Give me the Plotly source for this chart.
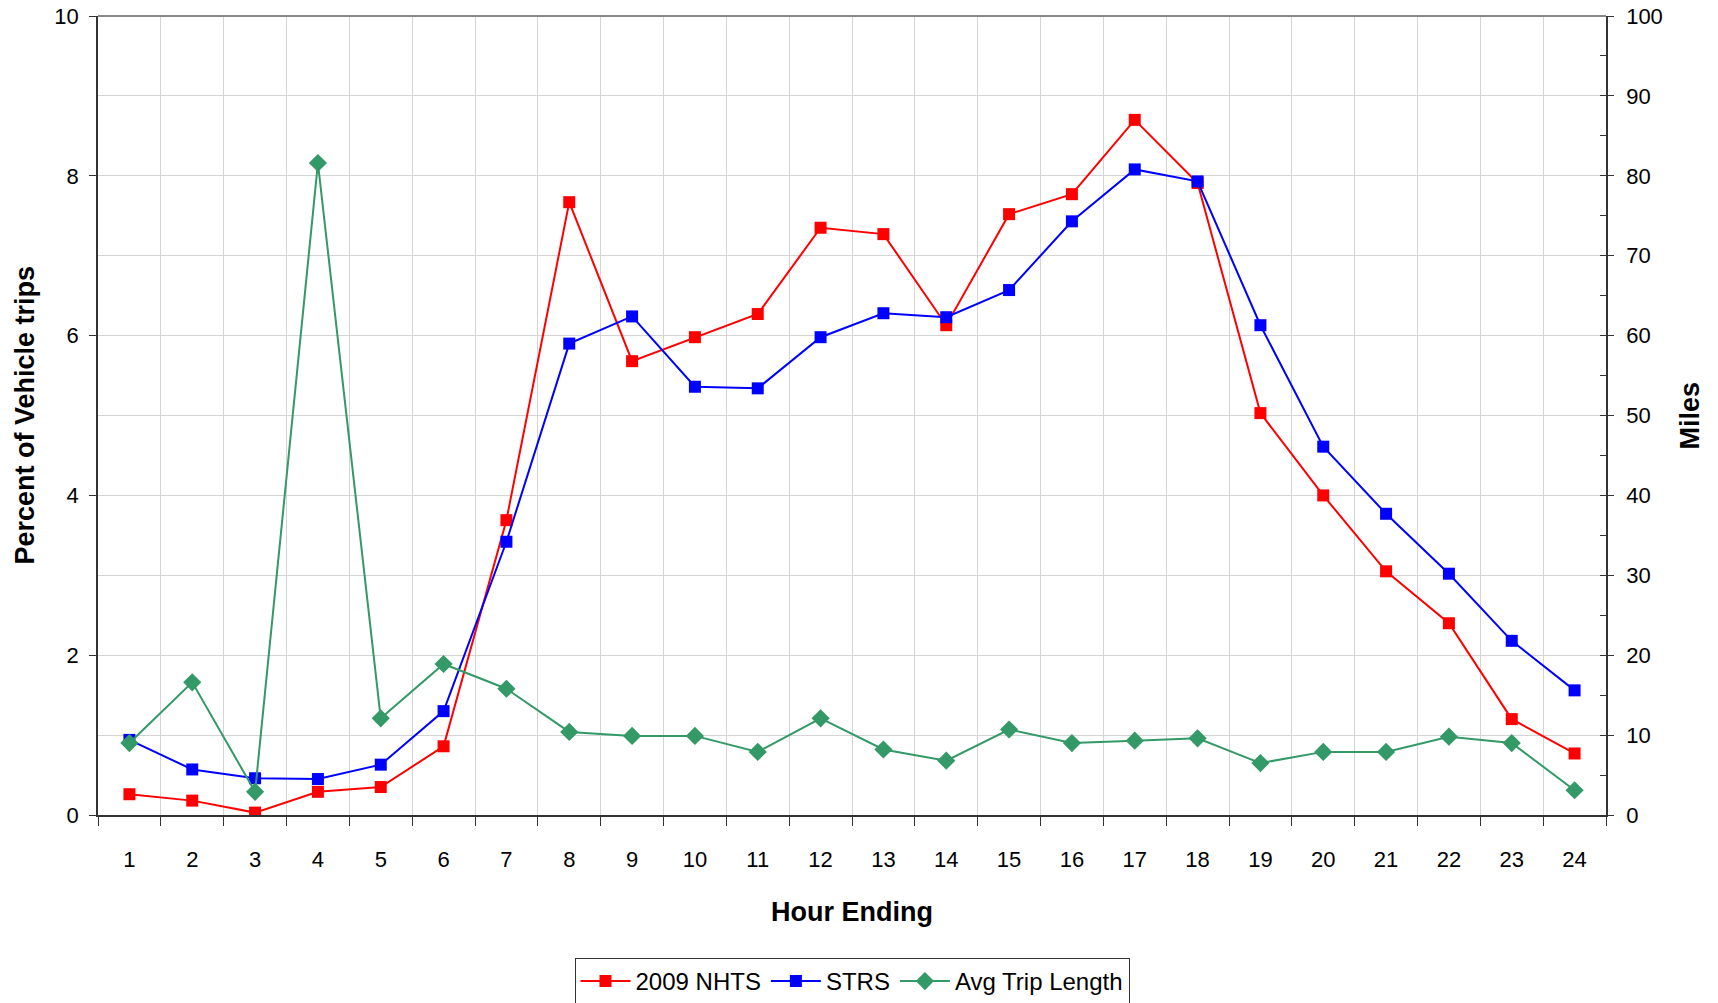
import plotly.graph_objects as go

hours = list(range(1, 25))
nhts = [0.26, 0.18, 0.03, 0.29, 0.35, 0.86, 3.69, 7.67, 5.68, 5.98, 6.27, 7.35,
        7.27, 6.13, 7.52, 7.77, 8.70, 7.91, 5.03, 4.00, 3.05, 2.40, 1.20, 0.77]
strs = [0.94, 0.57, 0.46, 0.45, 0.63, 1.30, 3.42, 5.90, 6.24, 5.36, 5.34, 5.98,
        6.28, 6.23, 6.57, 7.43, 8.08, 7.93, 6.13, 4.61, 3.77, 3.02, 2.18, 1.56]
avg_len = [9.0, 16.6, 2.9, 81.6, 12.1, 18.9, 15.8, 10.4, 9.9, 9.9, 7.9, 12.1,
           8.2, 6.8, 10.7, 9.0, 9.3, 9.6, 6.5, 7.9, 7.9, 9.8, 9.0, 3.1]

FONT = "Liberation Sans, Arial, sans-serif"
AXC = "#333333"
GRID = "#d4d4d4"

fig = go.Figure()
fig.add_trace(go.Scatter(x=hours, y=nhts, name="2009 NHTS", mode="lines+markers",
                         line=dict(color="#ff0000", width=2),
                         marker=dict(symbol="square", size=12, color="#ff0000")))
fig.add_trace(go.Scatter(x=hours, y=strs, name="STRS", mode="lines+markers",
                         line=dict(color="#0000ff", width=2),
                         marker=dict(symbol="square", size=12, color="#0000ff")))
fig.add_trace(go.Scatter(x=hours, y=avg_len, name="Avg Trip Length", mode="lines+markers",
                         yaxis="y2",
                         line=dict(color="#339966", width=2),
                         marker=dict(symbol="diamond", size=14, color="#339966")))

boundaries = [h - 0.5 for h in hours] + [hours[-1] + 0.5]

fig.update_layout(
    width=1718, height=1003,
    margin=dict(l=98, r=112, t=16, b=188, autoexpand=False),
    paper_bgcolor="white", plot_bgcolor="white",
    font=dict(family=FONT, size=22, color="black"),
    showlegend=True,
    legend=dict(orientation="h", x=0.5, xanchor="center", y=-0.179, yanchor="top",
                bordercolor=AXC, borderwidth=1, font=dict(size=24),
                itemwidth=50, tracegroupgap=0),
    xaxis=dict(range=[0.5, 24.5], tickmode="array", tickvals=hours,
               ticktext=[str(h) for h in hours], ticks="", showgrid=False,
               showline=True, linecolor=AXC, linewidth=1.5, zeroline=False,
               ticklabelstandoff=24, tickfont=dict(size=22), automargin=False,
               minor=dict(tickmode="array", tickvals=boundaries, ticks="outside",
                          ticklen=9, tickcolor=AXC, showgrid=True, gridcolor=GRID,
                          gridwidth=1)),
    yaxis=dict(range=[0, 10], dtick=2, tick0=0, ticks="outside", ticklen=7,
               tickcolor=AXC, showline=True, linecolor=AXC, linewidth=1.5,
               showgrid=True, gridcolor=GRID, gridwidth=1, zeroline=False,
               tickfont=dict(size=22), ticklabelstandoff=6, automargin=False,
               minor=dict(dtick=1, tick0=0, showgrid=True, gridcolor=GRID,
                          gridwidth=1, ticks="")),
    yaxis2=dict(range=[0, 100], dtick=10, tick0=0, overlaying="y", side="right",
                ticks="outside", ticklen=6, tickcolor=AXC, showline=True,
                linecolor=AXC, linewidth=1.5, showgrid=False, zeroline=False,
                tickfont=dict(size=22), ticklabelstandoff=8, automargin=False,
                minor=dict(dtick=5, tick0=0, ticks="inside", ticklen=6,
                           tickcolor=AXC, showgrid=False)),
    shapes=[dict(type="line", xref="paper", yref="paper", x0=0, x1=1, y0=1, y1=1,
                 line=dict(color="#888888", width=2))],
    annotations=[
        dict(text="<b>Percent of Vehicle trips</b>", xref="paper", yref="paper",
             x=-0.049, y=0.5, xanchor="center", yanchor="middle", textangle=-90,
             showarrow=False, font=dict(size=27)),
        dict(text="<b>Miles</b>", xref="paper", yref="paper",
             x=1.0557, y=0.5, xanchor="center", yanchor="middle", textangle=-90,
             showarrow=False, font=dict(size=27)),
        dict(text="<b>Hour Ending</b>", xref="paper", yref="paper",
             x=0.5, y=-0.1214, xanchor="center", yanchor="middle",
             showarrow=False, font=dict(size=27)),
    ],
)

fig.write_html("out.html")
